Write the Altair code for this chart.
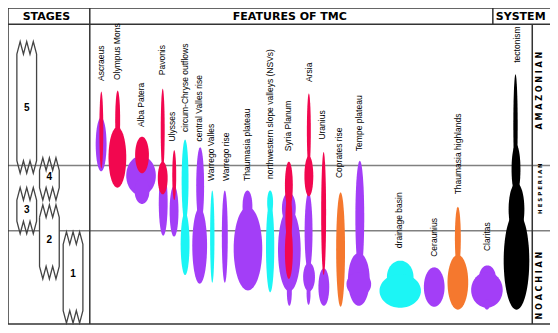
import altair as alt
import pandas as pd

# ---------------- feature labels (rotated) ----------------
label_text = ["Ascraeus", "Olympus Mons", "Alba Patera", "Pavonis", "Ulysses",
              "circum-Chryse outflows", "central Valles rise", "Warrego Valles",
              "Warrego rise", "Thaumasia plateau", "northwestern slope valleys (NSVs)",
              "Syria Planum", "Arsia", "Uranius", "Coprates rise", "Tempe plateau",
              "drainage basin", "Ceraunius", "Thaumasia highlands", "Claritas", "tectonism"]
label_x = [102.5, 119, 143, 164.5, 174, 188, 202, 214, 229, 251, 274,
           292.5, 313, 327, 344, 364, 405, 440, 464.5, 494, 525]
label_y = [79, 78, 127, 73, 142, 132, 142, 183, 183, 183, 181,
           152, 80, 140, 180, 152, 253, 262, 197, 256, 60]

# ---------------- blobs (feature activity shapes) ----------------
blob_feature = ["Ascraeus", "Ascraeus",
                "Olympus Mons", "Olympus Mons",
                "Alba Patera", "Alba Patera", "Alba Patera",
                "Pavonis", "Pavonis", "Pavonis",
                "Ulysses", "Ulysses",
                "circum-Chryse outflows", "circum-Chryse outflows",
                "central Valles rise", "central Valles rise",
                "Warrego Valles", "Warrego rise",
                "Thaumasia plateau", "Thaumasia plateau",
                "NSVs", "NSVs",
                "Syria Planum", "Syria Planum", "Syria Planum", "Syria Planum", "Syria Planum", "Syria Planum",
                "Arsia", "Arsia", "Arsia", "Arsia", "Arsia",
                "Uranius", "Uranius",
                "Coprates rise",
                "Tempe plateau", "Tempe plateau", "Tempe plateau",
                "drainage basin", "drainage basin",
                "Ceraunius",
                "Thaumasia highlands", "Thaumasia highlands",
                "Claritas", "Claritas", "Claritas",
                "tectonism", "tectonism", "tectonism", "tectonism"]
blob_kind = ["rise", "volcano",
             "volcano", "volcano",
             "rise", "rise", "volcano",
             "rise", "volcano", "volcano",
             "rise", "volcano",
             "valleys", "valleys",
             "rise", "rise",
             "valleys", "rise",
             "rise", "rise",
             "valleys", "valleys",
             "rise", "rise", "rise", "volcano", "volcano", "volcano",
             "rise", "rise", "rise", "volcano", "volcano",
             "rise", "volcano",
             "highland",
             "rise", "rise", "rise",
             "valleys", "valleys",
             "rise",
             "highland", "highland",
             "rise", "rise", "rise",
             "tectonism", "tectonism", "tectonism", "tectonism"]
blob_cx = [102.5, 102.7,
           119.3, 119,
           143, 144, 144,
           165.5, 165, 165,
           176.5, 176.7,
           187.7, 187.7,
           203, 202.5,
           215.3, 228,
           251, 251.5,
           274, 274,
           293, 293.5, 293.5, 293, 293, 293,
           313, 313.5, 313, 313.3, 313.3,
           328.5, 328.3,
           345.5,
           365, 364, 364,
           406, 406,
           440.5,
           464.5, 464.5,
           494.5, 494, 494,
           523, 523.5, 524, 524]
blob_halfwidth = [5.5, 2,
                  2.5, 9,
                  15, 7.5, 7,
                  4.5, 5, 2,
                  4.5, 2,
                  3.5, 4.5,
                  4, 7.5,
                  2.2, 3,
                  5, 14.5,
                  3, 4.2,
                  7, 11.5, 2.5, 4, 3.5, 4,
                  4, 6, 2, 2, 4.5,
                  5.5, 2.5,
                  4.5,
                  4.5, 11, 12.5,
                  13.5, 21,
                  10.5,
                  3, 10.5,
                  8.5, 16, 3,
                  2.2, 4.5, 8, 13]
blob_top = [117, 90,
            89, 127,
            157, 180, 137,
            172, 163, 87,
            188, 151,
            140, 216,
            148, 211,
            193, 193,
            193, 210,
            193, 205,
            195, 212, 285, 163, 198, 228,
            195, 268, 288, 92, 157,
            274, 153,
            195,
            162, 258, 278,
            266, 280,
            273,
            210, 260,
            271, 278, 306,
            72, 145, 185, 215]
blob_bottom = [173, 170,
               150, 190,
               198, 207, 175,
               240, 197, 172,
               241, 203,
               226, 281,
               228, 290,
               289, 289,
               226, 297,
               218, 299,
               228, 298, 313, 212, 245, 285,
               277, 298, 312, 170, 199,
               313, 281,
               314,
               280, 313, 303,
               300, 315,
               314,
               275, 317,
               296, 315, 317,
               178, 197, 240, 317]

kind_domain = ["volcano", "rise", "valleys", "highland", "tectonism"]
kind_colors = ["#F2074F", "#A33EF7", "#1CF5F5", "#F5782E", "#000000"]

# ---------------- stages ----------------
stage_name = ["5", "4", "3", "2", "1"]
stage_left = [17, 40, 17, 40, 64]
stage_right = [37, 60, 37, 60, 84]
stage_top = [38, 159, 190, 208, 236]
stage_bottom = [175, 203, 238, 285, 331]
stage_label_y = [107, 179, 213, 245, 280]

# ---------------- frame ----------------
hline_y = [3, 20, 332]
hline_x1 = [8, 8, 8]
hline_x2 = [558, 558, 558]
boundary_y = [167, 235]
vline_x = [8, 91, 500, 540]
vline_y1 = [3, 3, 3, 20]
vline_y2 = [332, 332, 20, 332]

header_text = ["STAGES", "FEATURES OF TMC", "SYSTEM"]
header_x = [47, 294, 503]
header_align = ["center", "center", "left"]
header_y = [12, 12, 12]

system_text = ["A M A Z O N I A N", "H E S P E R I A N", "N O A C H I A N"]
system_y = [89, 191, 292]
system_size = [8, 5.5, 8]
system_x = [548, 548, 548]

# ================= build =================
W, H = 542, 317
xs = alt.Scale(domain=[8, 558], nice=False, zero=False)
ys = alt.Scale(domain=[3, 333], nice=False, zero=False, reverse=True)

blobs = pd.DataFrame({
    "feature": blob_feature, "kind": blob_kind, "cx": blob_cx,
    "hw": blob_halfwidth, "top": blob_top, "bottom": blob_bottom,
})
blobs["bid"] = range(len(blobs))


def blob_layer(df):
    return alt.Chart(df).transform_calculate(
        th="sequence(0, PI + 0.001, PI / 40)"
    ).transform_flatten(["th"]).transform_calculate(
        yy="(datum.top + datum.bottom) / 2 - (datum.bottom - datum.top) / 2 * cos(datum.th)",
        xa="datum.cx - datum.hw * sin(datum.th)",
        xb="datum.cx + datum.hw * sin(datum.th)",
    ).mark_area(orient="horizontal").encode(
        y=alt.Y("yy:Q", scale=ys, axis=None),
        x=alt.X("xa:Q", scale=xs, axis=None),
        x2="xb:Q",
        detail="bid:N",
        color=alt.Color("kind:N", scale=alt.Scale(domain=kind_domain, range=kind_colors), legend=None),
    )


under = blob_layer(blobs[blobs.kind != "volcano"])
over = blob_layer(blobs[blobs.kind == "volcano"])

# frame lines
hl = pd.DataFrame({"y": hline_y, "x1": hline_x1, "x2": hline_x2})
hrules = alt.Chart(hl).mark_rule(color="#333333", strokeWidth=1.5).encode(
    y=alt.Y("y:Q", scale=ys, axis=None), x=alt.X("x1:Q", scale=xs, axis=None), x2="x2:Q")
bl = pd.DataFrame({"y": boundary_y, "x1": [8, 8], "x2": [558, 558]})
brules = alt.Chart(bl).mark_rule(color="#808080", strokeWidth=1.5).encode(
    y=alt.Y("y:Q", scale=ys, axis=None), x=alt.X("x1:Q", scale=xs, axis=None), x2="x2:Q")
vl = pd.DataFrame({"x": vline_x, "y1": vline_y1, "y2": vline_y2})
vrules = alt.Chart(vl).mark_rule(color="#333333", strokeWidth=1.5).encode(
    x=alt.X("x:Q", scale=xs, axis=None), y=alt.Y("y1:Q", scale=ys, axis=None), y2="y2:Q")

# stage boxes
d = 13
rows = []
fr = [0, 1 / 6, 2 / 6, 3 / 6, 4 / 6, 5 / 6, 1]
off = [d, 0, d, 0, d, 0, d]
for s, x0, x1, t, b in zip(stage_name, stage_left, stage_right, stage_top, stage_bottom):
    i = 0
    for f, o in zip(fr, off):
        rows.append({"stage": s, "i": i, "x": x0 + (x1 - x0) * f, "y": t + o}); i += 1
    for f, o in zip(fr[::-1], off[::-1]):
        rows.append({"stage": s, "i": i, "x": x0 + (x1 - x0) * f, "y": b - o}); i += 1
    rows.append({"stage": s, "i": i, "x": x0, "y": t + d})
outline = pd.DataFrame(rows)
stages_df = pd.DataFrame({"stage": stage_name, "x0": stage_left, "x1": stage_right,
                          "t": [v + d for v in stage_top], "b": [v - d for v in stage_bottom],
                          "ly": stage_label_y,
                          "lx": [(a + c) / 2 for a, c in zip(stage_left, stage_right)]})
stage_fill = alt.Chart(stages_df).mark_bar(color="white").encode(
    x=alt.X("x0:Q", scale=xs, axis=None), x2="x1:Q",
    y=alt.Y("t:Q", scale=ys, axis=None), y2="b:Q")
stage_line = alt.Chart(outline).mark_line(color="#444444", strokeWidth=1.3).encode(
    x=alt.X("x:Q", scale=xs, axis=None), y=alt.Y("y:Q", scale=ys, axis=None),
    detail="stage:N", order="i:Q")
stage_txt = alt.Chart(stages_df).mark_text(font="Liberation Sans", fontWeight="bold",
                                           fontSize=10, color="black").encode(
    x=alt.X("lx:Q", scale=xs, axis=None), y=alt.Y("ly:Q", scale=ys, axis=None), text="stage:N")

# labels
labels = pd.DataFrame({"t": label_text, "x": label_x, "y": label_y})
label_layer = alt.Chart(labels).mark_text(
    angle=270, align="left", baseline="middle", fontSize=8.5,
    font="Liberation Sans, Arial, sans-serif", color="black").encode(
    x=alt.X("x:Q", scale=xs, axis=None), y=alt.Y("y:Q", scale=ys, axis=None), text="t:N")

headers = pd.DataFrame({"t": header_text, "x": header_x, "y": header_y, "a": header_align})
head_c = alt.Chart(headers[headers.a == "center"]).mark_text(
    font="DejaVu Sans", fontWeight="bold", fontSize=11, color="black", baseline="middle").encode(
    x=alt.X("x:Q", scale=xs, axis=None), y=alt.Y("y:Q", scale=ys, axis=None), text="t:N")
head_l = alt.Chart(headers[headers.a == "left"]).mark_text(
    font="DejaVu Sans", fontWeight="bold", fontSize=11, color="black", baseline="middle",
    align="left").encode(
    x=alt.X("x:Q", scale=xs, axis=None), y=alt.Y("y:Q", scale=ys, axis=None), text="t:N")

sysdf = pd.DataFrame({"t": system_text, "x": system_x, "y": system_y, "s": system_size})
sys_layers = []
for _, r in sysdf.iterrows():
    sys_layers.append(alt.Chart(sysdf[sysdf.t == r.t]).mark_text(
        angle=270, font="DejaVu Sans", fontWeight="bold", fontSize=float(r.s),
        color="black", baseline="middle").encode(
        x=alt.X("x:Q", scale=xs, axis=None), y=alt.Y("y:Q", scale=ys, axis=None), text="t:N"))

chart = alt.layer(
    brules, hrules, vrules, stage_fill, stage_line, stage_txt,
    under, over, label_layer, head_c, head_l, *sys_layers
).properties(
    width=W, height=H, padding=0, autosize=alt.AutoSizeParams(type="none"),
    background="white"
).configure_view(stroke=None)

chart.save("out.html", embed_options={"renderer": "svg", "actions": False})
